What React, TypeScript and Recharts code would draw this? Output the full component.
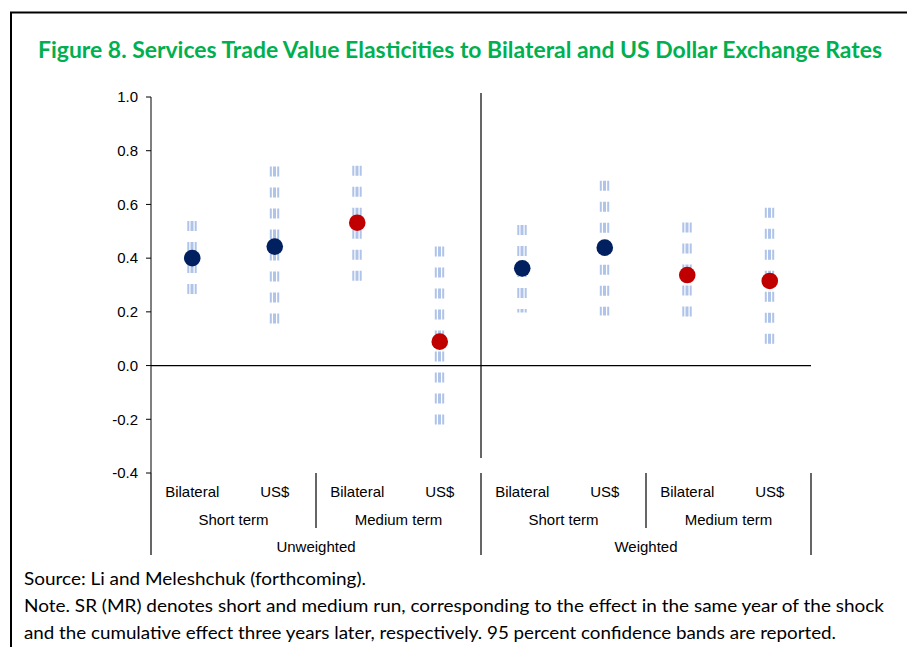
import React from 'react';
import { ComposedChart, Bar, Line, XAxis, YAxis, ReferenceLine } from 'recharts';

const categories = ['Bilateral', 'US$', 'Bilateral', 'US$', 'Bilateral', 'US$', 'Bilateral', 'US$'];
const termOfCategory = ['Short term', 'Short term', 'Medium term', 'Medium term', 'Short term', 'Short term', 'Medium term', 'Medium term'];
const weightOfCategory = ['Unweighted', 'Unweighted', 'Unweighted', 'Unweighted', 'Weighted', 'Weighted', 'Weighted', 'Weighted'];
const shortTermPoints = [0.4, 0.443, null, null, 0.362, 0.439, null, null];
const mediumTermPoints = [null, null, 0.532, 0.089, null, null, 0.337, 0.315];
const lowerBand = [0.263, 0.145, 0.316, -0.233, 0.198, 0.186, 0.176, 0.073];
const upperBand = [0.538, 0.741, 0.744, 0.443, 0.523, 0.688, 0.533, 0.588];
const yTicks = [-0.4, -0.2, 0, 0.2, 0.4, 0.6, 0.8, 1.0];

const TITLE = 'Figure 8. Services Trade Value Elasticities to Bilateral and US Dollar Exchange Rates';
const NOTES = [
  'Source: Li and Meleshchuk (forthcoming).',
  'Note. SR (MR) denotes short and medium run, corresponding to the effect in the same year of the shock',
  'and the cumulative effect three years later, respectively. 95 percent confidence bands are reported.',
];

const data = categories.map((c, i) => ({
  id: String(i),
  term: `${weightOfCategory[i]}|${termOfCategory[i]}`,
  weight: weightOfCategory[i],
  st: shortTermPoints[i],
  mt: mediumTermPoints[i],
  ci: [lowerBand[i], upperBand[i]],
}));

const AXIS_FONT = '"Liberation Sans", Arial, sans-serif';
const NOTE_FONT = 'Lato, "Open Sans", sans-serif';

const StripedBand = (props: any) => {
  const { x, y, width, height } = props;
  if (x == null || y == null) return <g />;
  const top = Math.min(y, y + height);
  const bottom = Math.max(y, y + height);
  const cx = x + width / 2;
  const stripes = [
    { dx: -3.7, w: 2 },
    { dx: 0, w: 3 },
    { dx: 3.7, w: 2 },
  ];
  return (
    <g>
      {stripes.map((s, i) => (
        <line
          key={i}
          x1={cx + s.dx}
          x2={cx + s.dx}
          y1={top}
          y2={bottom}
          stroke="#AFC4E8"
          strokeWidth={s.w}
          strokeDasharray="10 11"
        />
      ))}
    </g>
  );
};

const makeDot = (color: string) => (props: any) => {
  const { cx, cy, value, index } = props;
  if (value == null || cy == null || Number.isNaN(cy)) return <g key={`d${index}`} />;
  return <circle key={`d${index}`} cx={cx} cy={cy} r={8.3} fill={color} />;
};

const sepProps = { stroke: '#000', strokeWidth: 1.2, ifOverflow: 'visible' as const };

export default function App() {
  return (
    <div style={{ position: 'absolute', left: 0, top: 0, width: 907, height: 647, background: '#fff' }}>
      <ComposedChart
        width={907}
        height={647}
        data={data}
        margin={{ top: 97, right: 96, bottom: 93, left: 91 }}
      >
        <XAxis
          dataKey="id"
          xAxisId={0}
          height={27}
          axisLine={false}
          tickLine={false}
          tickSize={0}
          tickMargin={13}
          interval={0}
          tickFormatter={(v: string) => categories[Number(v)]}
          tick={{ fontSize: 15, fill: '#000', fontFamily: AXIS_FONT }}
        />
        <XAxis
          xAxisId="term"
          dataKey="term"
          allowDuplicatedCategory={false}
          interval={0}
          height={27}
          axisLine={false}
          tickLine={false}
          tickSize={0}
          tickMargin={14}
          tickFormatter={(v: string) => String(v).split('|')[1]}
          tick={{ fontSize: 15, fill: '#000', fontFamily: AXIS_FONT }}
        />
        <XAxis
          xAxisId="wt"
          dataKey="weight"
          allowDuplicatedCategory={false}
          interval={0}
          height={27}
          axisLine={false}
          tickLine={false}
          tickSize={0}
          tickMargin={14}
          tick={{ fontSize: 15, fill: '#000', fontFamily: AXIS_FONT }}
        />
        <YAxis
          width={60}
          domain={[-0.4, 1.0]}
          ticks={yTicks}
          interval={0}
          allowDataOverflow
          tickSize={5}
          tickMargin={8}
          axisLine={{ stroke: '#000' }}
          tickLine={{ stroke: '#000' }}
          tickFormatter={(v: number) => v.toFixed(1)}
          tick={{ fontSize: 15, fill: '#000', fontFamily: AXIS_FONT }}
        />
        <ReferenceLine y={0} stroke="#000" strokeWidth={1.2} ifOverflow="visible" />
        <ReferenceLine
          xAxisId="wt"
          position="start"
          segment={[{ x: 'Weighted', y: 1.015 }, { x: 'Weighted', y: -0.344 }]}
          {...sepProps}
        />
        <ReferenceLine
          xAxisId="wt"
          position="start"
          segment={[{ x: 'Unweighted', y: -0.4 }, { x: 'Unweighted', y: -0.705 }]}
          {...sepProps}
        />
        <ReferenceLine
          xAxisId="wt"
          position="start"
          segment={[{ x: 'Weighted', y: -0.4 }, { x: 'Weighted', y: -0.705 }]}
          {...sepProps}
        />
        <ReferenceLine
          xAxisId="wt"
          position="end"
          segment={[{ x: 'Weighted', y: -0.4 }, { x: 'Weighted', y: -0.705 }]}
          {...sepProps}
        />
        <ReferenceLine
          xAxisId="term"
          position="start"
          segment={[{ x: 'Unweighted|Medium term', y: -0.4 }, { x: 'Unweighted|Medium term', y: -0.605 }]}
          {...sepProps}
        />
        <ReferenceLine
          xAxisId="term"
          position="start"
          segment={[{ x: 'Weighted|Medium term', y: -0.4 }, { x: 'Weighted|Medium term', y: -0.605 }]}
          {...sepProps}
        />
        <Bar dataKey="ci" barSize={10} shape={StripedBand} isAnimationActive={false} />
        <Line
          dataKey="st"
          stroke="none"
          dot={makeDot('#002060')}
          activeDot={false}
          isAnimationActive={false}
        />
        <Line
          dataKey="mt"
          stroke="none"
          dot={makeDot('#C00000')}
          activeDot={false}
          isAnimationActive={false}
        />
      </ComposedChart>
      <svg
        width={907}
        height={647}
        style={{ position: 'absolute', left: 0, top: 0, pointerEvents: 'none' }}
      >
        <line x1={10} x2={907} y1={12.5} y2={12.5} stroke="#000" strokeWidth={2} />
        <line x1={11} x2={11} y1={12} y2={647} stroke="#000" strokeWidth={2} />
        <text
          x={38}
          y={58}
          fontFamily={NOTE_FONT}
          fontWeight={700}
          fontSize={22}
          fill="#00B050"
          textLength={844}
          lengthAdjust="spacingAndGlyphs"
        >
          {TITLE}
        </text>
        <text x={24} y={585} fontFamily={NOTE_FONT} fontSize={18} fill="#000" textLength={342} lengthAdjust="spacingAndGlyphs">
          {NOTES[0]}
        </text>
        <text x={24} y={612} fontFamily={NOTE_FONT} fontSize={18} fill="#000" textLength={860} lengthAdjust="spacingAndGlyphs">
          {NOTES[1]}
        </text>
        <text x={24} y={639} fontFamily={NOTE_FONT} fontSize={18} fill="#000" textLength={812} lengthAdjust="spacingAndGlyphs">
          {NOTES[2]}
        </text>
      </svg>
    </div>
  );
}
